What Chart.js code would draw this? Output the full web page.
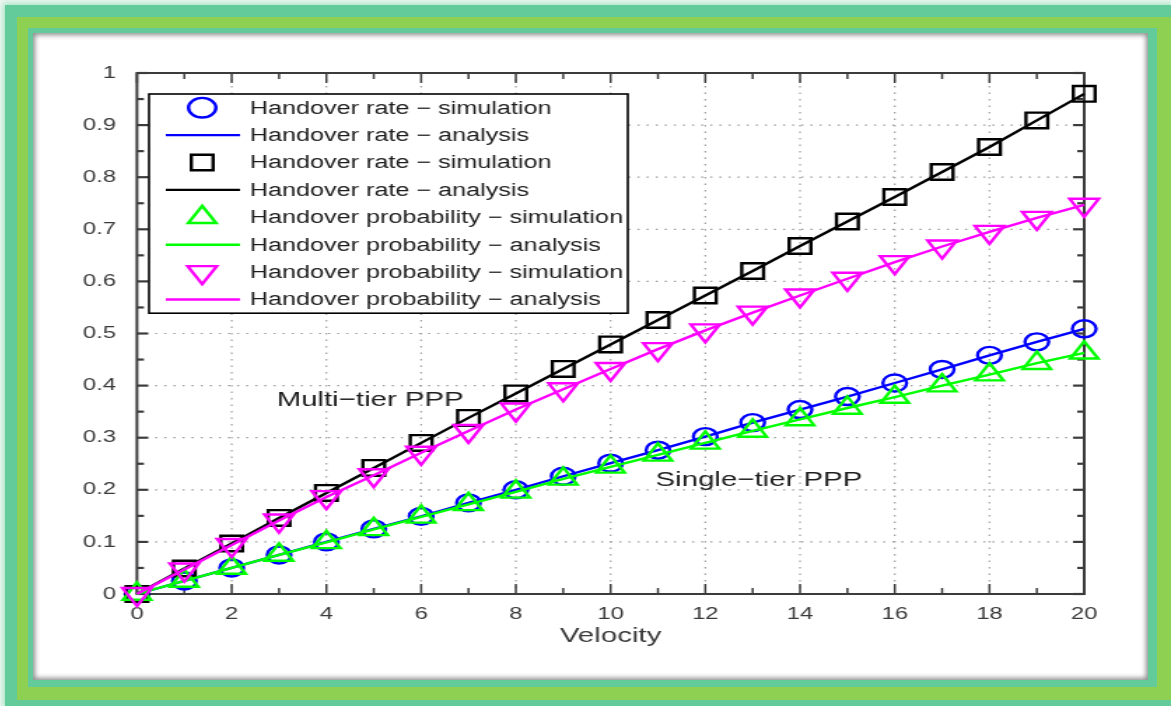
<!DOCTYPE html>
<html>
<head>
<meta charset="utf-8">
<script src="https://cdn.jsdelivr.net/npm/chart.js@4.4.1/dist/chart.umd.min.js"></script>
<style>
  html, body { margin: 0; padding: 0; width: 1171px; height: 706px; overflow: hidden; background: #eef8f2; font-family: "Liberation Sans", Arial, sans-serif; }
  .teal-out { position: absolute; left: 5px; top: 5px; width: 1166px; height: 701px; background: #63ca99; box-shadow: 0 0 6px 2px #a8e2c6; }
  .green { position: absolute; left: 17px; top: 17px; width: 1154px; height: 683px; background: #8ed152; }
  .teal-in { position: absolute; left: 28px; top: 28px; width: 1129px; height: 659px; background: #63ca99; }
  .panel { position: absolute; left: 33px; top: 33px; width: 1115px; height: 647px; background: #fff; box-shadow: inset 0 0 5px 2px rgba(0,0,0,0.45); }
  .stretch { position: absolute; left: 37px; top: 37px; width: 792px; height: 641px; transform: scaleX(1.4); transform-origin: 0 0; }
</style>
</head>
<body>
<div class="teal-out"></div>
<div class="green"></div>
<div class="teal-in"></div>
<div class="panel"></div>
<div class="stretch"><canvas id="chart" width="792" height="641"></canvas></div>
<script>
// velocity on the x axis
const velocity = [0, 1, 2, 3, 4, 5, 6, 7, 8, 9, 10, 11, 12, 13, 14, 15, 16, 17, 18, 19, 20];

// single-tier PPP
const singleRate = [0, 0.025, 0.05, 0.075, 0.1, 0.125, 0.149, 0.175, 0.2, 0.226, 0.251, 0.276, 0.302, 0.329, 0.354, 0.379, 0.405, 0.431, 0.458, 0.484, 0.509];
const singleProb = [0, 0.025, 0.05, 0.075, 0.099, 0.124, 0.148, 0.172, 0.196, 0.221, 0.244, 0.267, 0.29, 0.313, 0.335, 0.357, 0.378, 0.4, 0.421, 0.443, 0.463];

// multi-tier PPP
const multiRate = [0, 0.049, 0.097, 0.146, 0.194, 0.242, 0.29, 0.338, 0.385, 0.432, 0.479, 0.526, 0.573, 0.62, 0.668, 0.715, 0.762, 0.81, 0.858, 0.909, 0.96];
const multiProb = [0, 0.047, 0.094, 0.141, 0.186, 0.228, 0.271, 0.313, 0.354, 0.393, 0.432, 0.47, 0.506, 0.54, 0.573, 0.605, 0.637, 0.667, 0.695, 0.722, 0.747];

const xTickStep = 2;
const yTickStep = 0.1;

const pts = arr => velocity.map((v, i) => ({ x: v, y: arr[i] }));

function sim(label, arr, color, style, r, rot) {
  return {
    label, data: pts(arr), showLine: false,
    pointStyle: style, pointRadius: r, pointRotation: rot || 0,
    pointBorderWidth: 2.4, pointBorderColor: color, pointBackgroundColor: 'rgba(0,0,0,0)',
    borderColor: color, clip: false
  };
}
function ana(label, arr, color) {
  return {
    label, data: pts(arr), showLine: true, pointRadius: 0,
    borderColor: color, borderWidth: 2.4, tension: 0, clip: false
  };
}

const datasets = [
  sim('Handover rate − simulation', singleRate, '#0000ff', 'circle', 8.5),
  ana('Handover rate − analysis', singleRate, '#0000ff'),
  sim('Handover rate − simulation', multiRate, '#000000', 'rect', 11),
  ana('Handover rate − analysis', multiRate, '#000000'),
  sim('Handover probability − simulation', singleProb, '#00ff00', 'triangle', 11.5),
  ana('Handover probability − analysis', singleProb, '#00ff00'),
  sim('Handover probability − simulation', multiProb, '#ff00ff', 'triangle', 12, 180),
  ana('Handover probability − analysis', multiProb, '#ff00ff')
];
datasets.forEach((d, i) => { d.order = -i; });

function marker(ctx, ds, x, y, scale) {
  const r = ds.pointRadius * (scale || 1);
  ctx.strokeStyle = ds.pointBorderColor;
  ctx.lineWidth = ds.pointBorderWidth;
  ctx.beginPath();
  if (ds.pointStyle === 'circle') {
    ctx.arc(x, y, r, 0, Math.PI * 2);
  } else if (ds.pointStyle === 'rect') {
    const s = r * Math.SQRT1_2;
    ctx.rect(x - s, y - s, 2 * s, 2 * s);
  } else {
    const dir = ds.pointRotation === 180 ? -1 : 1;
    for (let k = 0; k < 3; k++) {
      const a = k * 2 * Math.PI / 3;
      const px = x + Math.sin(a) * r, py = y - dir * Math.cos(a) * r;
      k ? ctx.lineTo(px, py) : ctx.moveTo(px, py);
    }
    ctx.closePath();
  }
  ctx.stroke();
}

// matlab style box, dotted grid and inward ticks
const matlabAxes = {
  id: 'matlabAxes',
  beforeDatasetsDraw(chart) {
    const { ctx, chartArea: a, scales: { x, y } } = chart;
    const xs = x.ticks.map(t => t.value), ys = y.ticks.map(t => t.value);
    const seg = (x1, y1, x2, y2) => { ctx.beginPath(); ctx.moveTo(x1, y1); ctx.lineTo(x2, y2); ctx.stroke(); };
    ctx.save();
    ctx.strokeStyle = '#9c9c9c';
    ctx.lineWidth = 1.2;
    ctx.setLineDash([1.5, 5]);
    xs.slice(1, -1).forEach(v => { const p = x.getPixelForValue(v); seg(p, a.top, p, a.bottom); });
    ys.slice(1, -1).forEach(v => { const p = y.getPixelForValue(v); seg(a.left, p, a.right, p); });
    ctx.setLineDash([]);
    ctx.strokeStyle = '#3c3c3c';
    ctx.lineWidth = 1.5;
    xs.forEach((v, i) => {
      const p = x.getPixelForValue(v);
      seg(p, a.bottom, p, a.bottom - 10); seg(p, a.top, p, a.top + 10);
      if (i < xs.length - 1) {
        const m = x.getPixelForValue(v + xTickStep / 2);
        seg(m, a.bottom, m, a.bottom - 6); seg(m, a.top, m, a.top + 6);
      }
    });
    ctx.lineWidth = 2.2;
    ys.forEach((v, i) => {
      const p = y.getPixelForValue(v);
      seg(a.left, p, a.left + 8, p); seg(a.right, p, a.right - 8, p);
      if (i < ys.length - 1) {
        const m = y.getPixelForValue(v + yTickStep / 2);
        seg(a.left, m, a.left + 5, m); seg(a.right, m, a.right - 5, m);
      }
    });
    ctx.lineWidth = 2;
    ctx.strokeRect(a.left, a.top, a.right - a.left, a.bottom - a.top);
    ctx.restore();
  }
};

// text labels inside the plot, placed in data units
const plotNotes = {
  id: 'plotNotes',
  afterDatasetsDraw(chart, args, opts) {
    const { ctx, scales: { x, y } } = chart;
    ctx.save();
    ctx.font = '21px "Liberation Sans", Arial, sans-serif';
    ctx.fillStyle = '#1e1e1e';
    ctx.textBaseline = 'middle';
    opts.items.forEach(n => ctx.fillText(n.text, x.getPixelForValue(n.x), y.getPixelForValue(n.y)));
    ctx.restore();
  }
};

// legend box in the upper left corner of the axes
const boxLegend = {
  id: 'boxLegend',
  afterDatasetsDraw(chart, args, opts) {
    const { ctx } = chart;
    const { left, top, width, rowH } = opts;
    const ds = chart.data.datasets;
    ctx.save();
    ctx.fillStyle = '#fff';
    ctx.fillRect(left, top, width, rowH * ds.length);
    ctx.strokeStyle = '#000';
    ctx.lineWidth = 1.6;
    ctx.strokeRect(left, top, width, rowH * ds.length);
    ctx.font = '18px "Liberation Sans", Arial, sans-serif';
    ctx.textBaseline = 'middle';
    ds.forEach((d, i) => {
      const cy = top + rowH * (i + 0.5);
      if (d.showLine === false) {
        marker(ctx, d, left + 38, cy, d.pointStyle === 'circle' ? 1.15 : 1);
      } else {
        ctx.strokeStyle = d.borderColor;
        ctx.lineWidth = 2.4;
        ctx.beginPath(); ctx.moveTo(left + 12, cy); ctx.lineTo(left + 65, cy); ctx.stroke();
      }
      ctx.fillStyle = '#1e1e1e';
      ctx.fillText(d.label, left + 72, cy + 1);
    });
    ctx.restore();
  }
};

const tickFont = { family: '"Liberation Sans", Arial, sans-serif', size: 17 };

new Chart(document.getElementById('chart'), {
  type: 'line',
  data: { datasets },
  options: {
    responsive: false,
    animation: false,
    events: [],
    layout: { padding: { left: 0, right: 44, top: 36, bottom: 0 } },
    scales: {
      x: {
        type: 'linear', min: 0, max: 20,
        ticks: { stepSize: xTickStep, padding: 2, color: '#3a3a3a', font: tickFont, maxRotation: 0 },
        grid: { display: false },
        border: { display: false },
        title: { display: true, text: 'Velocity', color: '#3a3a3a', font: { family: tickFont.family, size: 21 }, padding: { bottom: 29 } },
        afterFit: s => { s.height = 84; }
      },
      y: {
        min: 0, max: 1,
        ticks: { stepSize: yTickStep, padding: 7, color: '#3a3a3a', font: tickFont, callback: v => +v.toFixed(1) },
        grid: { display: false },
        border: { display: false },
        afterFit: s => { s.width = 71.4; }
      }
    },
    plugins: {
      legend: { display: false },
      tooltip: { enabled: false },
      plotNotes: { items: [
        { text: 'Multi−tier PPP', x: 2.95, y: 0.372 },
        { text: 'Single−tier PPP', x: 10.95, y: 0.219 }
      ] },
      boxLegend: { left: 80, top: 57, width: 342, rowH: 27.4 }
    }
  },
  plugins: [matlabAxes, plotNotes, boxLegend]
});
</script>
</body>
</html>
